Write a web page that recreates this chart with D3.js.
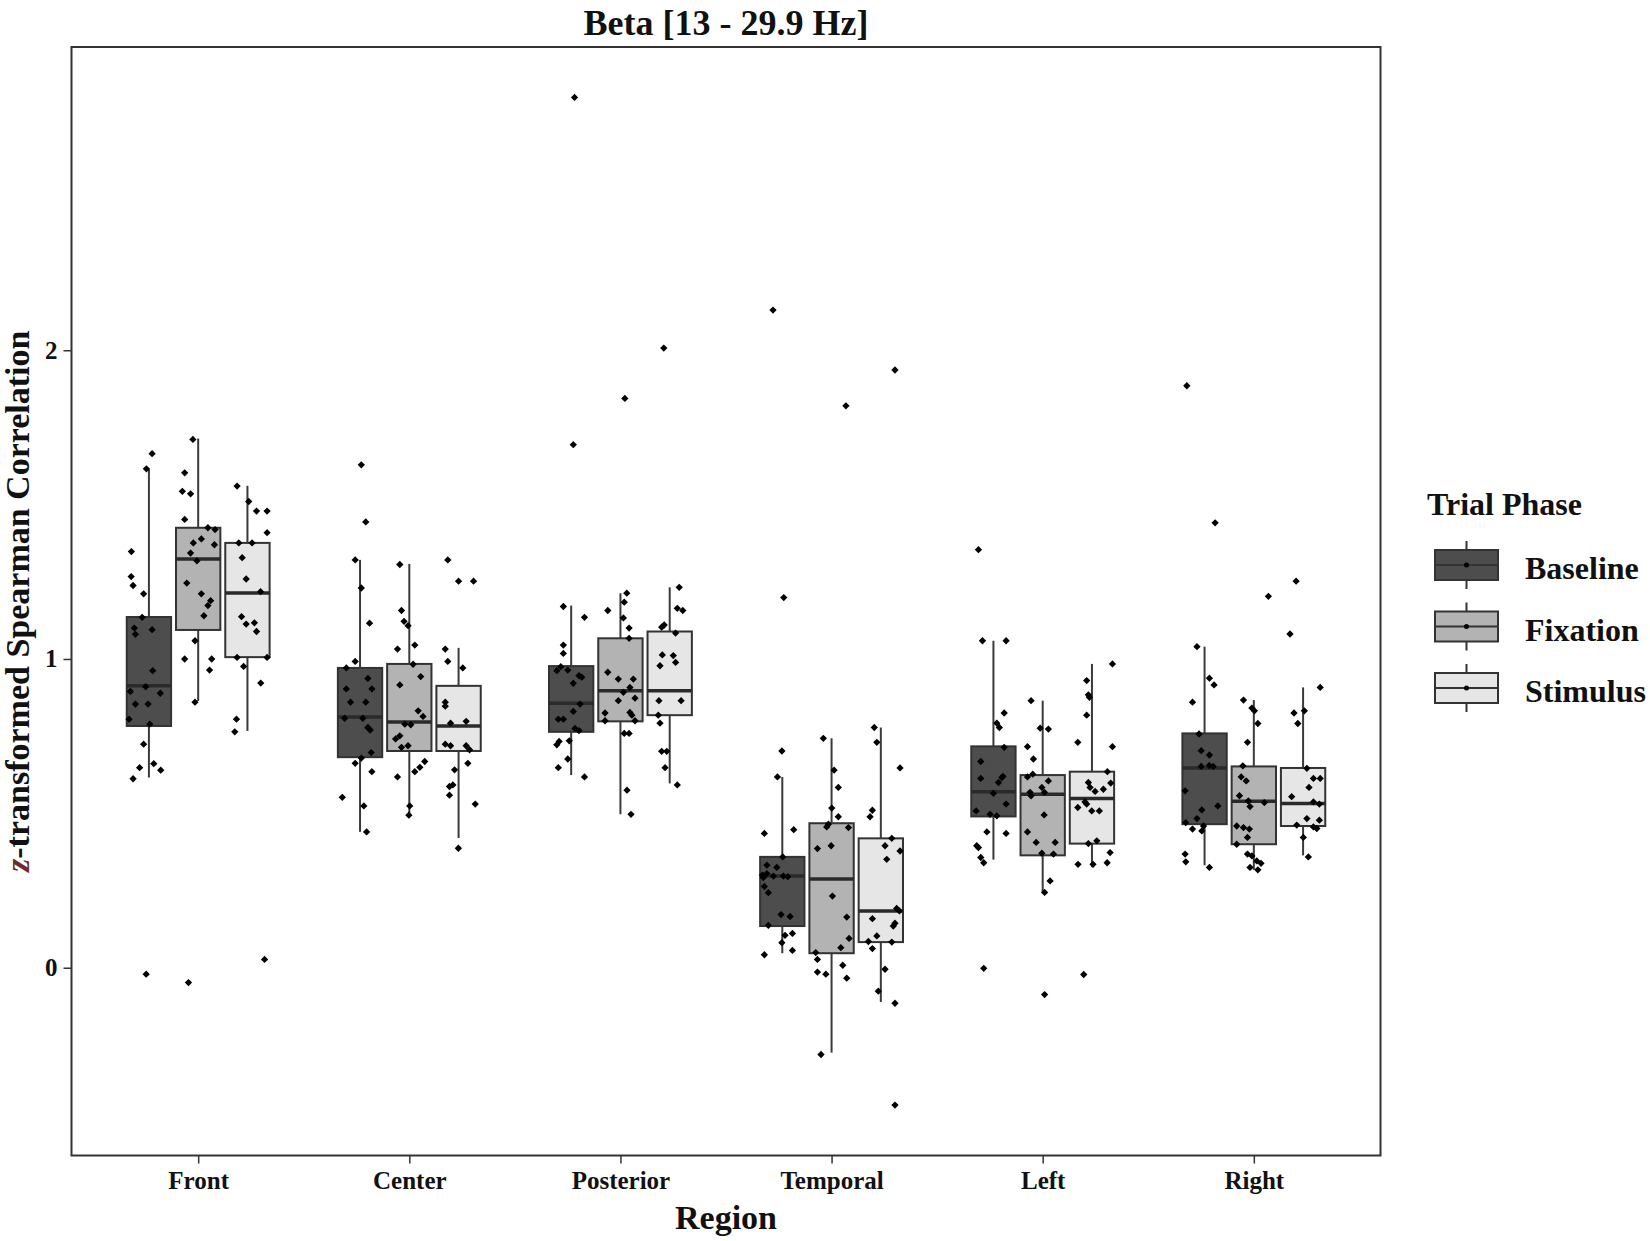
<!DOCTYPE html>
<html>
<head>
<meta charset="utf-8">
<script src="https://cdn.jsdelivr.net/npm/d3@7"></script>
<style>
  body { margin: 0; background: #fff; }
  text { font-family: "Liberation Serif", "Times New Roman", serif; font-weight: bold; }
</style>
</head>
<body>
<svg id="chart" width="1650" height="1241"></svg>
<script>
const regions = ["Front", "Center", "Posterior", "Temporal", "Left", "Right"];
const phases = ["Baseline", "Fixation", "Stimulus"];
const yTicks = [0, 1, 2];

// box stats per region: [lower whisker, q1, median, q3, upper whisker]
const statsBaseline = [
  [0.616, 0.783, 0.913, 1.136, 1.616],
  [0.440, 0.682, 0.812, 0.971, 1.321],
  [0.624, 0.764, 0.857, 0.977, 1.173],
  [0.047, 0.135, 0.297, 0.359, 0.618],
  [0.350, 0.490, 0.570, 0.717, 1.059],
  [0.332, 0.465, 0.647, 0.759, 1.040]
];
const statsFixation = [
  [0.864, 1.094, 1.324, 1.425, 1.714],
  [0.490, 0.702, 0.796, 0.984, 1.308],
  [0.497, 0.798, 0.897, 1.067, 1.213],
  [-0.275, 0.047, 0.287, 0.468, 0.743],
  [0.242, 0.364, 0.562, 0.624, 0.865],
  [0.317, 0.400, 0.539, 0.652, 0.867]
];
const statsStimulus = [
  [0.767, 1.006, 1.214, 1.376, 1.561],
  [0.420, 0.702, 0.783, 0.913, 1.036],
  [0.597, 0.818, 0.897, 1.089, 1.232],
  [-0.111, 0.083, 0.184, 0.419, 0.778],
  [0.326, 0.402, 0.548, 0.635, 0.984],
  [0.364, 0.459, 0.532, 0.647, 0.908]
];

// jittered points: [horizontal jitter (category units), value]
const frontBaseline = [[0.015,1.665],[-0.012,1.616],[-0.083,1.348],[-0.084,1.267],[-0.075,1.238],[-0.025,1.211],
  [-0.032,1.135],[-0.069,1.10],[-0.064,1.08],[0.015,1.095],[0.018,0.962],[-0.015,0.910],[-0.088,0.895],[0.054,0.889],
  [-0.064,0.854],[-0.004,0.854],[-0.094,0.805],[0.004,0.789],[-0.025,0.724],[-0.044,0.648],[0.023,0.661],[0.056,0.640],
  [-0.075,0.612],[-0.013,-0.021]];
const frontFixation = [[-0.025,1.711],[-0.064,1.603],[-0.075,1.543],[-0.036,1.535],[-0.064,1.452],[0.046,1.425],
  [0.080,1.419],[0.015,1.389],[-0.023,1.376],[0.077,1.370],[-0.036,1.343],[-0.006,1.318],[-0.054,1.246],[0.015,1.211],
  [0.059,1.189],[0.046,1.173],[0.027,1.140],[-0.015,1.059],[-0.064,1.000],[0.064,1.000],[0.054,0.964],[-0.015,0.860],
  [-0.046,-0.048]];
const frontStimulus = [[-0.049,1.560],[0.006,1.510],[0.043,1.479],[0.093,1.479],[0.093,1.409],[-0.041,1.376],
  [0.022,1.376],[-0.025,1.328],[-0.006,1.259],[0.062,1.218],[-0.028,1.137],[-0.006,1.113],[0.033,1.117],[0.043,1.089],
  [-0.049,1.005],[0.093,1.005],[-0.018,0.976],[0.063,0.922],[-0.052,0.805],[-0.060,0.764],[0.081,0.027]];

const centerBaseline = [[0.006,1.629],[0.027,1.444],[-0.023,1.321],[0.006,1.230],[0.045,1.116],[-0.023,0.992],
  [-0.065,0.971],[0.037,0.937],[-0.065,0.903],[0.056,0.903],[-0.045,0.860],[0.027,0.860],[-0.073,0.808],[0.013,0.808],
  [0.037,0.778],[0.048,0.770],[0.053,0.697],[0.006,0.679],[-0.023,0.662],[0.056,0.635],[-0.084,0.552],[0.018,0.524],
  [0.031,0.440]];
const centerFixation = [[-0.045,1.306],[-0.037,1.157],[-0.025,1.122],[-0.006,1.108],[-0.056,1.032],[0.026,1.045],
  [0.018,0.983],[0.054,0.943],[-0.045,0.916],[0.042,0.832],[0.065,0.814],[-0.021,0.789],[0.007,0.787],[-0.045,0.751],
  [-0.065,0.741],[-0.037,0.714],[-0.006,0.719],[0.073,0.668],[0.050,0.649],[0.026,0.635],[-0.056,0.618],[0.002,0.524],
  [-0.002,0.494]];
const centerStimulus = [[-0.051,1.321],[0.000,1.252],[0.071,1.252],[-0.063,1.032],[-0.051,0.992],[0.020,0.971],
  [-0.063,0.860],[-0.063,0.847],[-0.038,0.792],[0.036,0.798],[-0.063,0.724],[-0.038,0.719],[0.036,0.719],[0.052,0.706],
  [0.044,0.662],[-0.019,0.641],[-0.043,0.587],[-0.027,0.592],[-0.043,0.559],[0.079,0.530],[-0.001,0.387]];

const posteriorBaseline = [[0.016,2.819],[0.010,1.694],[-0.037,1.170],[0.063,1.135],[-0.037,1.045],[-0.037,1.018],
  [-0.068,0.962],[-0.049,0.975],[-0.016,0.964],[0.050,0.941],[0.037,0.946],[0.010,0.921],[0.042,0.854],[0.010,0.830],
  [-0.061,0.805],[-0.037,0.805],[0.018,0.775],[0.037,0.768],[-0.009,0.735],[-0.057,0.733],[-0.068,0.722],[-0.016,0.676],
  [-0.061,0.648],[0.063,0.618]];
const posteriorFixation = [[0.021,1.844],[0.030,1.213],[0.018,1.184],[-0.060,1.157],[0.014,1.133],[0.041,1.100],
  [0.041,1.067],[-0.060,0.957],[-0.010,0.935],[0.061,0.935],[0.045,0.908],[0.014,0.892],[0.069,0.873],[-0.010,0.865],
  [-0.073,0.825],[0.045,0.827],[0.054,0.818],[0.069,0.800],[-0.073,0.800],[0.018,0.759],[0.041,0.759],[0.031,0.575],
  [0.050,0.497]];
const posteriorStimulus = [[-0.028,2.007],[0.045,1.232],[0.036,1.164],[0.062,1.157],[-0.026,1.110],[-0.038,1.103],
  [0.028,1.084],[-0.035,1.013],[0.017,1.011],[0.028,0.989],[-0.046,0.978],[-0.051,0.865],[0.054,0.865],[-0.054,0.818],
  [-0.046,0.792],[-0.038,0.701],[-0.014,0.701],[-0.022,0.648],[0.036,0.592]];

const temporalBaseline = [[-0.044,2.130],[0.007,1.199],[-0.002,0.702],[-0.023,0.618],[-0.085,0.435],[0.054,0.447],
  [0.002,0.359],[-0.073,0.332],[-0.026,0.325],[-0.094,0.300],[-0.073,0.305],[-0.042,0.297],[-0.090,0.292],[0.026,0.295],
  [0.005,0.297],[-0.085,0.263],[-0.066,0.243],[-0.006,0.172],[0.037,0.166],[-0.066,0.137],[0.013,0.105],[0.048,0.111],
  [-0.002,0.081],[-0.085,0.042],[0.048,0.056]];
const temporalFixation = [[0.068,1.820],[-0.039,0.743],[0.012,0.640],[0.032,0.584],[0.001,0.517],[0.032,0.489],
  [-0.023,0.456],[-0.015,0.465],[0.080,0.454],[-0.067,0.386],[-0.002,0.395],[0.004,0.232],[0.072,0.164],[0.083,0.095],
  [0.044,0.065],[-0.075,0.049],[-0.067,0.027],[-0.067,-0.014],[-0.027,-0.021],[0.053,0.008],[0.072,-0.034],[-0.050,-0.281]];
const temporalStimulus = [[0.067,1.936],[-0.031,0.778],[-0.019,0.730],[0.091,0.647],[-0.040,0.510],[-0.051,0.489],
  [0.052,0.419],[0.020,0.395],[0.028,0.351],[0.091,0.378],[0.075,0.192],[0.088,0.184],[-0.040,0.159],[0.067,0.144],
  [0.059,0.135],[-0.019,0.103],[-0.059,0.085],[0.052,0.083],[-0.040,0.062],[0.020,-0.005],[-0.012,-0.076],[0.067,-0.115],
  [0.067,-0.445]];

const leftBaseline = [[-0.071,1.354],[-0.052,1.059],[0.060,1.059],[0.051,0.825],[0.016,0.792],[0.028,0.778],
  [0.051,0.714],[-0.060,0.668],[-0.060,0.613],[0.024,0.600],[0.040,0.616],[0.045,0.620],[0.000,0.565],[0.060,0.530],
  [-0.082,0.508],[-0.016,0.497],[0.016,0.492],[-0.031,0.440],[0.060,0.435],[-0.079,0.395],[-0.071,0.389],[-0.060,0.357],
  [-0.046,0.340],[-0.046,-0.002]];
const leftFixation = [[-0.055,0.865],[-0.012,0.776],[0.027,0.773],[-0.072,0.716],[-0.044,0.676],[-0.072,0.618],
  [-0.047,0.627],[0.027,0.605],[-0.060,0.568],[-0.055,0.557],[-0.004,0.584],[0.008,0.568],[0.007,0.495],[-0.072,0.440],
  [-0.031,0.406],[0.059,0.406],[-0.004,0.371],[0.051,0.368],[0.035,0.281],[0.009,0.244],[0.009,-0.087]];
const leftStimulus = [[0.097,0.984],[-0.025,0.930],[-0.017,0.884],[-0.012,0.876],[-0.025,0.818],[-0.067,0.730],
  [0.097,0.716],[0.073,0.635],[-0.017,0.600],[-0.009,0.584],[0.015,0.571],[0.054,0.578],[0.089,0.598],[-0.033,0.537],
  [-0.025,0.530],[-0.067,0.519],[-0.001,0.508],[0.035,0.508],[-0.017,0.402],[0.023,0.411],[0.086,0.373],[-0.066,0.335],
  [0.005,0.335],[0.072,0.340],[-0.039,-0.022]];

const rightBaseline = [[-0.084,1.885],[0.050,1.441],[-0.036,1.040],[0.023,0.938],[0.045,0.916],[-0.057,0.860],
  [-0.026,0.757],[-0.016,0.703],[0.023,0.689],[-0.016,0.652],[0.041,0.652],[0.022,0.655],[-0.092,0.573],[0.063,0.524],
  [-0.013,0.511],[-0.036,0.483],[-0.089,0.470],[-0.057,0.449],[-0.013,0.443],[-0.005,0.459],[-0.092,0.368],[-0.089,0.343],
  [0.023,0.325]];
const rightFixation = [[0.069,1.203],[-0.049,0.867],[-0.009,0.841],[0.003,0.832],[0.019,0.791],[-0.030,0.730],
  [-0.052,0.654],[-0.060,0.618],[-0.036,0.605],[-0.068,0.557],[-0.026,0.540],[-0.018,0.522],[0.050,0.535],[-0.081,0.459],
  [-0.049,0.454],[-0.021,0.449],[-0.030,0.422],[-0.081,0.400],[-0.030,0.368],[-0.009,0.362],[0.014,0.346],[0.034,0.338],
  [-0.018,0.325],[0.019,0.317]];
const rightStimulus = [[-0.033,1.252],[-0.062,1.081],[0.081,0.908],[-0.043,0.825],[0.006,0.832],[-0.025,0.791],
  [0.018,0.646],[0.049,0.613],[0.081,0.613],[0.028,0.584],[-0.054,0.554],[0.077,0.530],[0.049,0.537],[0.018,0.483],
  [0.077,0.478],[-0.030,0.462],[0.049,0.456],[0.065,0.451],[0.001,0.422],[0.025,0.359]];

const svg = d3.select("#chart");
const width = +svg.attr("width");
const height = +svg.attr("height");
const margin = {top: 47, right: 269.5, bottom: 85.5, left: 71.5};
const fills = {Baseline: "#4d4d4d", Fixation: "#b3b3b3", Stimulus: "#e6e6e6"};

const stats = {Baseline: statsBaseline, Fixation: statsFixation, Stimulus: statsStimulus};
const points = {
  Front: [frontBaseline, frontFixation, frontStimulus],
  Center: [centerBaseline, centerFixation, centerStimulus],
  Posterior: [posteriorBaseline, posteriorFixation, posteriorStimulus],
  Temporal: [temporalBaseline, temporalFixation, temporalStimulus],
  Left: [leftBaseline, leftFixation, leftStimulus],
  Right: [rightBaseline, rightFixation, rightStimulus]
};

const boxes = [];
regions.forEach((r, i) => {
  phases.forEach((p, j) => {
    const s = stats[p][i];
    boxes.push({region: r, phase: p, lo: s[0], q1: s[1], med: s[2], q3: s[3], hi: s[4], pts: points[r][j]});
  });
});

const x = d3.scalePoint()
  .domain(regions)
  .range([margin.left, width - margin.right])
  .padding(0.6);
const step = x.step();

const dodge = d3.scaleBand()
  .domain(phases)
  .range([-0.35 * step, 0.35 * step]);
const boxW = dodge.bandwidth() * 0.9;
const cx = d => x(d.region) + dodge(d.phase) + dodge.bandwidth() / 2;

const allVals = boxes.flatMap(b => b.pts.map(p => p[1]));
const [vmin, vmax] = d3.extent(allVals);
const pad = (vmax - vmin) * 0.05;
const y = d3.scaleLinear()
  .domain([vmin - pad, vmax + pad])
  .range([height - margin.bottom, margin.top]);

// axes
const yAxis = svg.append("g")
  .attr("transform", `translate(${margin.left},0)`)
  .call(d3.axisLeft(y).tickValues(yTicks).tickSize(8).tickPadding(6).tickFormat(d3.format("d")));
yAxis.select(".domain").remove();
yAxis.selectAll("line").attr("stroke", "#333").attr("stroke-width", 1.5);
yAxis.selectAll("text").style("font-size", "25px").attr("fill", "#111");

const xAxis = svg.append("g")
  .attr("transform", `translate(0,${height - margin.bottom})`)
  .call(d3.axisBottom(x).tickSize(8).tickPadding(8));
xAxis.select(".domain").remove();
xAxis.selectAll("line").attr("stroke", "#333").attr("stroke-width", 1.5);
xAxis.selectAll("text").style("font-size", "25px").attr("fill", "#111");

// boxes
const g = svg.append("g");
const bx = g.selectAll("g.box")
  .data(boxes)
  .join("g")
  .attr("class", "box");

bx.append("line")
  .attr("x1", cx).attr("x2", cx)
  .attr("y1", d => y(d.hi)).attr("y2", d => y(d.q3))
  .attr("stroke", "#3a3a3a").attr("stroke-width", 2);
bx.append("line")
  .attr("x1", cx).attr("x2", cx)
  .attr("y1", d => y(d.q1)).attr("y2", d => y(d.lo))
  .attr("stroke", "#3a3a3a").attr("stroke-width", 2);
bx.append("rect")
  .attr("x", d => cx(d) - boxW / 2)
  .attr("y", d => y(d.q3))
  .attr("width", boxW)
  .attr("height", d => y(d.q1) - y(d.q3))
  .attr("fill", d => fills[d.phase])
  .attr("stroke", "#333")
  .attr("stroke-width", 2);
bx.append("line")
  .attr("x1", d => cx(d) - boxW / 2).attr("x2", d => cx(d) + boxW / 2)
  .attr("y1", d => y(d.med)).attr("y2", d => y(d.med))
  .attr("stroke", "#2a2a2a").attr("stroke-width", 3.5);

// jittered points
const diamond = d3.symbol().type(d3.symbolDiamond2).size(34);
boxes.forEach(b => {
  g.selectAll(null)
    .data(b.pts)
    .join("path")
    .attr("d", diamond)
    .attr("transform", p => `translate(${cx(b) + p[0] * step},${y(p[1])})`)
    .attr("fill", "#000");
});

// panel border
svg.append("rect")
  .attr("x", margin.left)
  .attr("y", margin.top)
  .attr("width", width - margin.left - margin.right)
  .attr("height", height - margin.top - margin.bottom)
  .attr("fill", "none")
  .attr("stroke", "#333")
  .attr("stroke-width", 2);

// titles
svg.append("text")
  .attr("x", (margin.left + width - margin.right) / 2)
  .attr("y", 35)
  .attr("text-anchor", "middle")
  .style("font-size", "36px")
  .attr("fill", "#111")
  .text("Beta [13 - 29.9 Hz]");

svg.append("text")
  .attr("x", (margin.left + width - margin.right) / 2)
  .attr("y", 1229)
  .attr("text-anchor", "middle")
  .style("font-size", "34px")
  .attr("fill", "#111")
  .text("Region");

const yTitle = svg.append("text")
  .attr("transform", `translate(29,${(margin.top + height - margin.bottom) / 2}) rotate(-90)`)
  .attr("text-anchor", "middle")
  .style("font-size", "34px")
  .attr("fill", "#111");
yTitle.append("tspan").style("font-style", "italic").attr("fill", "#6e2b2b").text("z");
yTitle.append("tspan").text("-transformed Spearman Correlation");

// legend
const legend = svg.append("g").attr("transform", "translate(1427,0)");
legend.append("text")
  .attr("x", 0)
  .attr("y", 515)
  .style("font-size", "32px")
  .attr("fill", "#111")
  .text("Trial Phase");

const keyW = 63, keyH = 30, keyGap = 61.5;
const key = legend.selectAll("g.key")
  .data(phases)
  .join("g")
  .attr("class", "key")
  .attr("transform", (d, i) => `translate(8,${550 + i * keyGap})`);
key.append("line")
  .attr("x1", keyW / 2).attr("x2", keyW / 2)
  .attr("y1", -9).attr("y2", keyH + 9)
  .attr("stroke", "#333").attr("stroke-width", 2);
key.append("rect")
  .attr("width", keyW).attr("height", keyH)
  .attr("fill", d => fills[d])
  .attr("stroke", "#333").attr("stroke-width", 2);
key.append("line")
  .attr("x1", 0).attr("x2", keyW)
  .attr("y1", keyH / 2).attr("y2", keyH / 2)
  .attr("stroke", "#333").attr("stroke-width", 2);
key.append("circle")
  .attr("cx", keyW / 2).attr("cy", keyH / 2).attr("r", 2.5)
  .attr("fill", "#000");
key.append("text")
  .attr("x", 90)
  .attr("y", keyH - 1)
  .style("font-size", "32px")
  .attr("fill", "#111")
  .text(d => d);
</script>
</body>
</html>
